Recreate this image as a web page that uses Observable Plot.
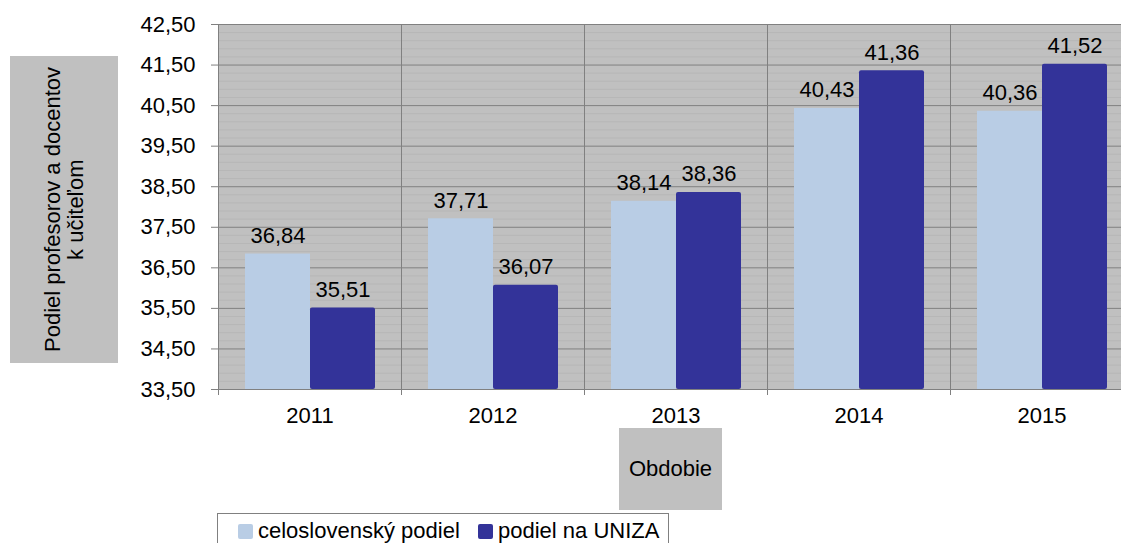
<!DOCTYPE html>
<html>
<head>
<meta charset="utf-8">
<script src="https://cdn.jsdelivr.net/npm/d3@7"></script>
<script src="https://cdn.jsdelivr.net/npm/@observablehq/plot@0.6"></script>
<style>
  html, body { margin: 0; padding: 0; background: #fff; overflow: hidden; }
  body { width: 1121px; height: 543px; position: relative; font-family: "Liberation Sans", Arial, sans-serif; }
  #chart { position: absolute; left: 0; top: 0; width: 1140px; }
  #chart svg { display: block; max-width: none !important; }
  .ytitle { position: absolute; left: 10px; top: 56px; width: 108px; height: 307px; background: #C0C0C0;
    display: flex; align-items: center; justify-content: center; }
  .ytitle span { writing-mode: vertical-rl; transform: rotate(180deg); text-align: center; font-size: 22px; line-height: 23px; color: #000; white-space: nowrap; }
  .xtitle { position: absolute; left: 619px; top: 428px; width: 103px; height: 82px; background: #C0C0C0;
    display: flex; align-items: center; justify-content: center; font-size: 22px; color: #000; }
  .legend { position: absolute; left: 217px; top: 513px; width: 452px; height: 40px; border: 1px solid #808080; background: #fff; box-sizing: border-box; }
  .legend .item { position: absolute; top: 4px; font-size: 22px; color: #000; white-space: nowrap; }
  .legend .sw { display: inline-block; width: 15px; height: 15px; margin-right: 5px; vertical-align: -1px; border-radius: 2px; }
</style>
</head>
<body>
<div id="chart"></div>
<div class="ytitle"><span>Podiel profesorov a docentov<br>k učiteľom</span></div>
<div class="xtitle">Obdobie</div>
<div class="legend" id="legend"></div>
<script>
const years = ["2011", "2012", "2013", "2014", "2015"];
const seriesNames = ["celoslovenský podiel", "podiel na UNIZA"];
const celoslovensky = [36.84, 37.71, 38.14, 40.43, 40.36];
const uniza = [35.51, 36.07, 38.36, 41.36, 41.52];
const yTicks = [33.5, 34.5, 35.5, 36.5, 37.5, 38.5, 39.5, 40.5, 41.5, 42.5];
const colors = ["#B9CDE5", "#333399"];

const data = [];
years.forEach((y, i) => {
  data.push({year: y, series: seriesNames[0], value: celoslovensky[i]});
  data.push({year: y, series: seriesNames[1], value: uniza[i]});
});

const minor = d3.range(0, 46).map(i => +(33.5 + i * 0.2).toFixed(2)).filter(v => !yTicks.includes(v) && v <= 42.5);

const fmt = d3.format(".2f");
const comma = v => fmt(v).replace(".", ",");

const W = 1140, ML = 218, MR = 7;
const bw = (W - ML - MR) / years.length;
const FS = 22;

const plot = Plot.plot({
  width: W,
  height: 430,
  marginLeft: ML,
  marginRight: MR,
  marginTop: 24,
  marginBottom: 41,
  style: {fontFamily: "'Liberation Sans', Arial, sans-serif", fontSize: FS + "px", color: "#000", background: "transparent", maxWidth: "none"},
  fx: {domain: years, padding: 0, label: null},
  x: {domain: seriesNames, paddingInner: 0, paddingOuter: 0.4, axis: null},
  y: {domain: [33.5, 42.5], label: null},
  color: {domain: seriesNames, range: colors},
  marks: [
    Plot.frame({fill: "#C0C0C0"}),
    Plot.ruleY(minor, {stroke: "#b7b7b7", strokeWidth: 1}),
    Plot.gridY(yTicks, {stroke: "#808080", strokeOpacity: 1}),
    Plot.frame({stroke: "#808080"}),
    Plot.barY(data.filter(d => d.series === seriesNames[0]), {fx: "year", x: "series", y1: 33.5, y2: "value", fill: "series"}),
    Plot.barY(data.filter(d => d.series === seriesNames[1]), {fx: "year", x: "series", y1: 33.5, y2: "value", fill: "series", rx: 2}),
    Plot.text(data, {fx: "year", x: "series", y: "value", text: d => comma(d.value), lineAnchor: "bottom", dy: -11, fill: "#000", fontSize: FS}),
    Plot.axisY(yTicks, {tickSize: 7, tickPadding: 16, tickFormat: comma, stroke: "#808080", fill: "#000", label: null, fontSize: FS}),
    Plot.axisFx({anchor: "bottom", tickSize: 0, tickPadding: 18, label: null, fontSize: FS, fill: "#000"}),
    Plot.axisFx({anchor: "bottom", tickSize: 6, tickFormat: () => "", label: null, stroke: "#808080", dx: -bw / 2})
  ]
});
document.getElementById("chart").appendChild(plot);

const legend = document.getElementById("legend");
const lefts = [20, 260];
seriesNames.forEach((s, i) => {
  const it = document.createElement("div");
  it.className = "item";
  it.style.left = lefts[i] + "px";
  const sw = document.createElement("span");
  sw.className = "sw";
  sw.style.background = colors[i];
  it.appendChild(sw);
  it.appendChild(document.createTextNode(s));
  legend.appendChild(it);
});
</script>
</body>
</html>
